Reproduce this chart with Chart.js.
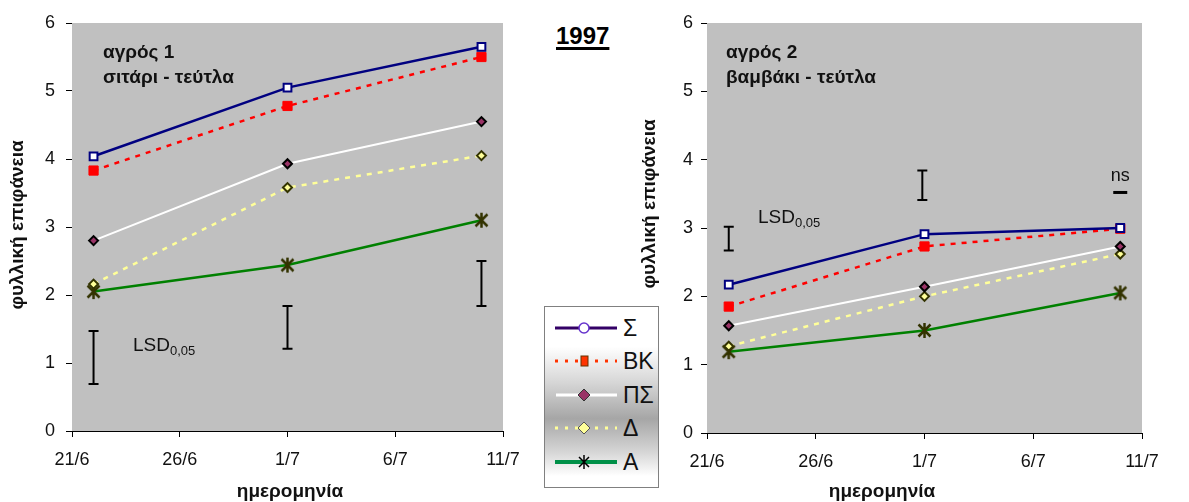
<!DOCTYPE html>
<html>
<head>
<meta charset="utf-8">
<script src="https://cdn.jsdelivr.net/npm/chart.js@4.4.0/dist/chart.umd.min.js"></script>
<style>
  body { margin: 0; background: #fff; width: 1189px; height: 502px; position: relative; overflow: hidden;
         font-family: "Liberation Sans", Arial, sans-serif; }
  #c1 { position: absolute; left: 0; top: 0; }
  #c2 { position: absolute; left: 636px; top: 0; }
  #year { position: absolute; left: 556px; top: 22px; font: bold 24px "Liberation Sans", Arial, sans-serif;
          text-decoration: underline; text-decoration-thickness: 3px; text-underline-offset: 3px; }
  #legend { position: absolute; left: 544px; top: 306px; width: 113px; height: 180px; border: 1px solid #808080;
            background: linear-gradient(to bottom, #ffffff 0%, #ffffff 22%, #d6d6d6 42%, #a6a6a6 62%, #d4d4d4 80%, #ffffff 94%); }
  .row { position: absolute; left: 0; width: 113px; height: 26px; }
  .row svg { position: absolute; left: 10px; top: 3px; }
  .row span { position: absolute; left: 78px; top: 0; font-size: 23px; line-height: 26px; color: #111; }
</style>
</head>
<body>
<canvas id="c1" width="540" height="502"></canvas>
<canvas id="c2" width="553" height="502"></canvas>
<div id="year">1997</div>
<div id="legend"></div>
<script>
// --- data ---
const tickLabels = ['21/6', '26/6', '1/7', '6/7', '11/7'];
const seriesNames = ['Σ', 'ΒΚ', 'ΠΣ', 'Δ', 'Α'];
const days = [1, 10, 19];   // days after 21/6

// field 1 (wheat - beet)
const f1Sigma = [4.04, 5.05, 5.65];
const f1BK    = [3.83, 4.78, 5.50];
const f1PS    = [2.80, 3.93, 4.55];
const f1Delta = [2.16, 3.58, 4.05];
const f1A     = [2.05, 2.44, 3.10];
const f1LsdDays = [1, 10, 19];
const f1LsdLow  = [0.69, 1.21, 1.84];
const f1LsdHigh = [1.47, 1.84, 2.50];

// field 2 (cotton - beet)
const f2Sigma = [2.17, 2.91, 3.00];
const f2BK    = [1.85, 2.73, 2.99];
const f2PS    = [1.57, 2.14, 2.73];
const f2Delta = [1.27, 2.00, 2.62];
const f2A     = [1.19, 1.50, 2.05];
const f2LsdDays = [1, 9.9];
const f2LsdLow  = [2.67, 3.41];
const f2LsdHigh = [3.02, 3.84];
const f2NsDay = 19;
const f2NsValue = 3.52;

const FONT = '"Liberation Sans", Arial, sans-serif';

// asterisk marker used for series Α
function makeAsterisk(color, size, lw) {
    const c = document.createElement('canvas');
    c.width = size; c.height = size;
    const g = c.getContext('2d');
    const m = size / 2, r = size / 2 - 1;
    g.strokeStyle = color; g.lineWidth = lw; g.lineCap = 'butt';
    g.beginPath();
    g.moveTo(m, m - r); g.lineTo(m, m + r);
    g.moveTo(m - r * 0.8, m - r * 0.8); g.lineTo(m + r * 0.8, m + r * 0.8);
    g.moveTo(m + r * 0.8, m - r * 0.8); g.lineTo(m - r * 0.8, m + r * 0.8);
    g.stroke();
    return c;
}
const starMark = makeAsterisk('#333300', 17, 2.5);

function pts(vals) { return vals.map((v, i) => ({ x: days[i], y: v })); }

function buildDatasets(sig, bk, ps, dl, a) {
    return [
        { label: seriesNames[0], data: pts(sig), borderColor: '#000080', borderWidth: 2.5,
          pointStyle: 'rect', pointRadius: 5.5, pointBackgroundColor: '#ffffff', pointBorderColor: '#000080', pointBorderWidth: 2 },
        { label: seriesNames[1], data: pts(bk), borderColor: '#ff0000', borderWidth: 2.5, borderDash: [5, 6],
          pointStyle: 'rect', pointRadius: 6.5, pointBackgroundColor: '#ff0000', pointBorderColor: '#ff0000', pointBorderWidth: 1 },
        { label: seriesNames[2], data: pts(ps), borderColor: '#ffffff', borderWidth: 2,
          pointStyle: 'rectRot', pointRadius: 4.5, pointBackgroundColor: '#993366', pointBorderColor: '#000000', pointBorderWidth: 2 },
        { label: seriesNames[3], data: pts(dl), borderColor: '#ffff99', borderWidth: 2.5, borderDash: [5, 6],
          pointStyle: 'rectRot', pointRadius: 4.5, pointBackgroundColor: '#ffff99', pointBorderColor: '#333300', pointBorderWidth: 2 },
        { label: seriesNames[4], data: pts(a), borderColor: '#008000', borderWidth: 2.5,
          pointStyle: starMark, pointRadius: 8 }
    ];
}

// background, LSD bars and texts
const notesPlugin = {
    id: 'notes',
    beforeDatasetsDraw(chart, args, o) {
        const { ctx, chartArea: ar, scales } = chart;
        const xs = scales.x, ys = scales.y;
        ctx.save();
        ctx.fillStyle = '#c0c0c0';
        ctx.fillRect(ar.left, ar.top, ar.right - ar.left, ar.bottom - ar.top);

        // LSD bars
        ctx.strokeStyle = '#000'; ctx.lineWidth = 2;
        o.lsdDays.forEach((d, i) => {
            const x = xs.getPixelForValue(d);
            const y1 = ys.getPixelForValue(o.lsdHigh[i]);
            const y2 = ys.getPixelForValue(o.lsdLow[i]);
            ctx.beginPath();
            ctx.moveTo(x, y1); ctx.lineTo(x, y2);
            ctx.moveTo(x - 5, y1); ctx.lineTo(x + 5, y1);
            ctx.moveTo(x - 5, y2); ctx.lineTo(x + 5, y2);
            ctx.stroke();
        });
        if (o.nsDay !== undefined) {
            const x = xs.getPixelForValue(o.nsDay);
            const y = ys.getPixelForValue(o.nsValue);
            ctx.lineWidth = 3;
            ctx.beginPath(); ctx.moveTo(x - 7, y); ctx.lineTo(x + 7, y); ctx.stroke();
            ctx.fillStyle = '#111';
            ctx.font = '18px ' + FONT;
            ctx.textAlign = 'center'; ctx.textBaseline = 'alphabetic';
            ctx.fillText('ns', x, y - 11);
        }

        // LSD label
        ctx.fillStyle = '#111';
        ctx.textAlign = 'left'; ctx.textBaseline = 'alphabetic';
        ctx.font = '19px ' + FONT;
        ctx.fillText('LSD', o.lsdText[0], o.lsdText[1]);
        const w = ctx.measureText('LSD').width;
        ctx.font = '13px ' + FONT;
        ctx.fillText('0,05', o.lsdText[0] + w, o.lsdText[1] + 4);

        // field label
        ctx.font = 'bold 19px ' + FONT;
        ctx.fillText(o.box[0], o.boxPos[0], o.boxPos[1]);
        ctx.fillText(o.box[1], o.boxPos[0], o.boxPos[1] + 25);

        // axis titles
        ctx.font = 'bold 19px ' + FONT;
        ctx.textAlign = 'center'; ctx.textBaseline = 'middle';
        ctx.fillText('ημερομηνία', o.xTitle[0], o.xTitle[1]);
        ctx.translate(o.yTitle[0], o.yTitle[1]);
        ctx.rotate(-Math.PI / 2);
        ctx.fillText('φυλλική επιφάνεια', 0, 0);
        ctx.restore();
    }
};

function makeChart(id, datasets, yWidth, xHeight, padRight, yPad, notes) {
    return new Chart(document.getElementById(id), {
        type: 'line',
        data: { datasets },
        plugins: [notesPlugin],
        options: {
            responsive: false,
            animation: false,
            devicePixelRatio: 1,
            layout: { padding: { top: 23, right: padRight, bottom: 0, left: 0 } },
            scales: {
                x: {
                    type: 'linear', min: 0, max: 20,
                    afterFit: s => { s.height = xHeight; },
                    ticks: { stepSize: 5, color: '#111', padding: 12, font: { size: 18, family: FONT },
                             callback: v => tickLabels[v / 5], maxRotation: 0 },
                    grid: { drawOnChartArea: false, drawTicks: true, tickLength: 6, color: '#000' },
                    border: { color: '#000', width: 1 }
                },
                y: {
                    min: 0, max: 6,
                    afterFit: s => { s.width = yWidth; },
                    ticks: { stepSize: 1, color: '#111', padding: yPad, font: { size: 18, family: FONT } },
                    grid: { drawOnChartArea: false, drawTicks: true, tickLength: 6, color: '#000' },
                    border: { color: '#000', width: 1 }
                }
            },
            plugins: { legend: { display: false }, tooltip: { enabled: false }, notes }
        }
    });
}

makeChart('c1', buildDatasets(f1Sigma, f1BK, f1PS, f1Delta, f1A), 72, 71, 37, 11, {
    lsdDays: f1LsdDays, lsdLow: f1LsdLow, lsdHigh: f1LsdHigh,
    lsdText: [133, 351], box: ['αγρός 1', 'σιτάρι - τεύτλα'], boxPos: [103, 58],
    xTitle: [290, 492], yTitle: [18, 225]
});

makeChart('c2', buildDatasets(f2Sigma, f2BK, f2PS, f2Delta, f2A), 71, 69, 47, 8, {
    lsdDays: f2LsdDays, lsdLow: f2LsdLow, lsdHigh: f2LsdHigh, nsDay: f2NsDay, nsValue: f2NsValue,
    lsdText: [758 - 636, 223], box: ['αγρός 2', 'βαμβάκι - τεύτλα'], boxPos: [726 - 636, 58],
    xTitle: [882 - 636, 492], yTitle: [650 - 636, 204]
});

// --- legend ---
const legendIcons = [
    '<line x1="0" y1="10" x2="62" y2="10" stroke="#330066" stroke-width="3"/><circle cx="29" cy="10" r="5" fill="#fff" stroke="#6633cc" stroke-width="1.5"/>',
    '<line x1="0" y1="10" x2="62" y2="10" stroke="#ff3300" stroke-width="3" stroke-dasharray="3 7"/><rect x="26" y="5" width="7" height="10" fill="#ff3300" stroke="#663300" stroke-width="1"/>',
    '<line x1="1" y1="10" x2="62" y2="10" stroke="#ffffff" stroke-width="3"/><polygon points="29,4 35,10 29,16 23,10" fill="#993366" stroke="#333" stroke-width="1"/>',
    '<line x1="0" y1="10" x2="62" y2="10" stroke="#ffff99" stroke-width="3" stroke-dasharray="3 7"/><polygon points="29,4 35,10 29,16 23,10" fill="#ffff99" stroke="#555" stroke-width="1"/>',
    '<line x1="0" y1="10" x2="62" y2="10" stroke="#009048" stroke-width="4"/><path d="M29 3 V17 M24 5 L34 15 M34 5 L24 15" stroke="#000" stroke-width="1.5"/>'
];
const rowCenters = [21, 54, 88, 121, 155];
const legend = document.getElementById('legend');
seriesNames.forEach((n, i) => {
    const row = document.createElement('div');
    row.className = 'row';
    row.style.top = (rowCenters[i] - 13) + 'px';
    row.innerHTML = '<svg width="64" height="20">' + legendIcons[i] + '</svg><span>' + n + '</span>';
    legend.appendChild(row);
});
</script>
</body>
</html>
